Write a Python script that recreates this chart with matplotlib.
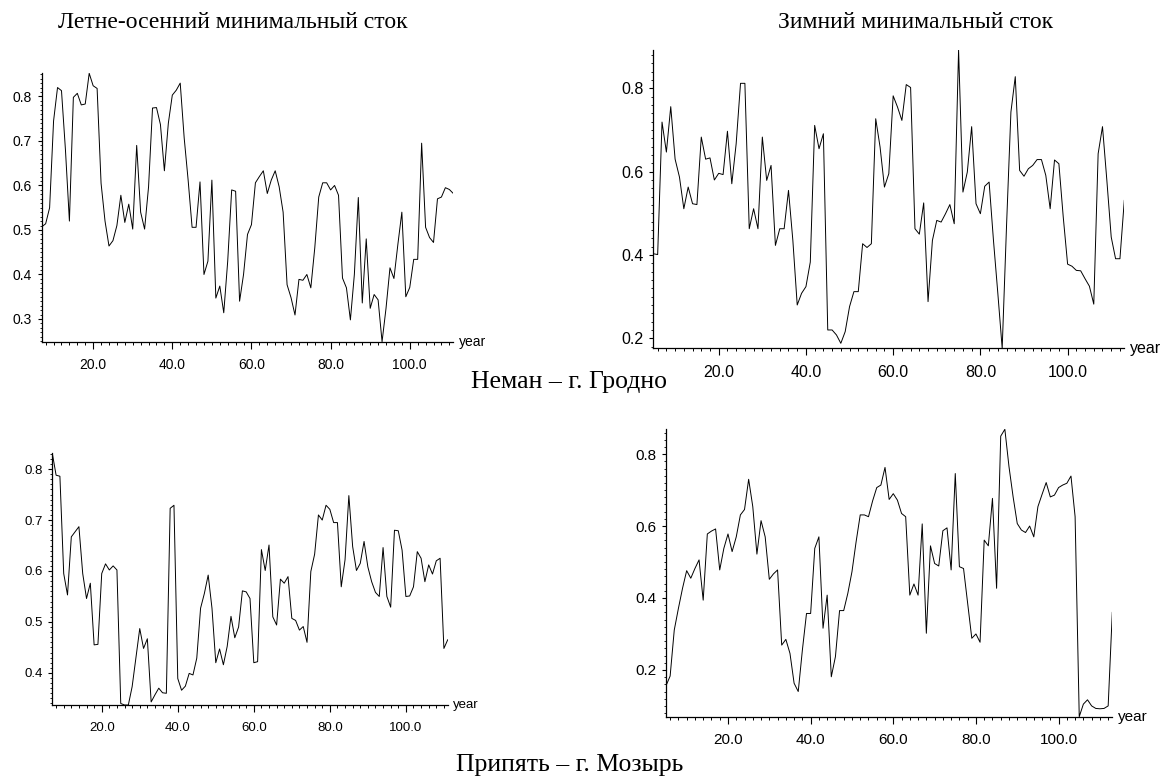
import numpy as np
import matplotlib
matplotlib.use('Agg')
import matplotlib.pyplot as plt
from matplotlib.ticker import MultipleLocator, FormatStrFormatter

W, H = 1164, 780

# Неман – г. Гродно, летне-осенний минимальный сток (годы 7..111)
neman_summer_years = np.arange(7, 112)
neman_summer = [0.507, 0.514, 0.55, 0.745, 0.82, 0.813, 0.68, 0.52, 0.798, 0.807,
                0.781, 0.783, 0.852, 0.824, 0.818, 0.605, 0.52, 0.464, 0.476, 0.51,
                0.578, 0.517, 0.558, 0.502, 0.69, 0.54, 0.502, 0.597, 0.774, 0.775,
                0.737, 0.633, 0.74, 0.803, 0.814, 0.83, 0.707, 0.612, 0.506, 0.506,
                0.608, 0.4, 0.43, 0.612, 0.347, 0.374, 0.314, 0.43, 0.59, 0.587,
                0.34, 0.4, 0.49, 0.512, 0.606, 0.62, 0.633, 0.582, 0.612, 0.633,
                0.597, 0.54, 0.377, 0.348, 0.309, 0.389, 0.387, 0.4, 0.37, 0.46,
                0.574, 0.606, 0.606, 0.59, 0.6, 0.578, 0.392, 0.37, 0.298, 0.4,
                0.573, 0.336, 0.48, 0.324, 0.355, 0.343, 0.249, 0.324, 0.415, 0.391,
                0.468, 0.54, 0.35, 0.371, 0.434, 0.434, 0.695, 0.506, 0.483, 0.472,
                0.57, 0.574, 0.595, 0.591, 0.582]

# Неман – г. Гродно, зимний минимальный сток (годы 5..113)
neman_winter_years = np.arange(5, 114)
neman_winter = [0.403, 0.401, 0.719, 0.647, 0.756, 0.63, 0.587, 0.511, 0.563, 0.523,
                0.521, 0.683, 0.63, 0.633, 0.58, 0.596, 0.593, 0.697, 0.571, 0.667,
                0.812, 0.812, 0.463, 0.511, 0.463, 0.683, 0.579, 0.615, 0.423, 0.463,
                0.463, 0.555, 0.435, 0.28, 0.308, 0.324, 0.383, 0.711, 0.655, 0.691,
                0.22, 0.22, 0.208, 0.188, 0.216, 0.276, 0.312, 0.312, 0.427, 0.418,
                0.427, 0.727, 0.659, 0.563, 0.595, 0.782, 0.755, 0.723, 0.809, 0.802,
                0.463, 0.45, 0.525, 0.288, 0.435, 0.483, 0.479, 0.499, 0.521, 0.475,
                0.892, 0.551, 0.599, 0.708, 0.523, 0.499, 0.565, 0.575, 0.435, 0.308,
                0.176, 0.471, 0.743, 0.828, 0.603, 0.589, 0.607, 0.615, 0.629, 0.629,
                0.591, 0.511, 0.628, 0.619, 0.491, 0.378, 0.373, 0.363, 0.362, 0.343,
                0.325, 0.282, 0.643, 0.708, 0.579, 0.443, 0.391, 0.391, 0.531]

# Припять – г. Мозырь, летне-осенний минимальный сток (годы 7..111)
pripyat_summer_years = np.arange(7, 112)
pripyat_summer = [0.831, 0.788, 0.786, 0.595, 0.553, 0.667, 0.677, 0.687, 0.595, 0.546,
                  0.576, 0.455, 0.456, 0.595, 0.614, 0.602, 0.61, 0.602, 0.34, 0.337,
                  0.337, 0.373, 0.43, 0.487, 0.448, 0.467, 0.343, 0.357, 0.37, 0.361,
                  0.36, 0.723, 0.729, 0.389, 0.366, 0.374, 0.399, 0.396, 0.429, 0.527,
                  0.556, 0.592, 0.527, 0.42, 0.447, 0.416, 0.452, 0.511, 0.469, 0.49,
                  0.561, 0.559, 0.546, 0.42, 0.422, 0.642, 0.601, 0.651, 0.51, 0.494,
                  0.584, 0.576, 0.589, 0.507, 0.503, 0.484, 0.491, 0.46, 0.599, 0.633,
                  0.71, 0.7, 0.729, 0.721, 0.695, 0.695, 0.569, 0.622, 0.748, 0.648,
                  0.601, 0.615, 0.658, 0.608, 0.579, 0.558, 0.55, 0.646, 0.55, 0.529,
                  0.68, 0.679, 0.641, 0.55, 0.551, 0.569, 0.638, 0.625, 0.579, 0.612,
                  0.594, 0.62, 0.625, 0.448, 0.465]

# Припять – г. Мозырь, зимний минимальный сток (годы 5..113)
pripyat_winter_years = np.arange(5, 114)
pripyat_winter = [0.156, 0.183, 0.311, 0.371, 0.427, 0.476, 0.455, 0.482, 0.506, 0.394,
                  0.578, 0.586, 0.592, 0.478, 0.538, 0.578, 0.529, 0.57, 0.631, 0.646,
                  0.73, 0.654, 0.522, 0.615, 0.57, 0.452, 0.467, 0.478, 0.269, 0.285,
                  0.246, 0.163, 0.14, 0.255, 0.357, 0.357, 0.538, 0.57, 0.316, 0.408,
                  0.181, 0.237, 0.365, 0.365, 0.413, 0.473, 0.556, 0.631, 0.631, 0.626,
                  0.67, 0.707, 0.714, 0.763, 0.674, 0.69, 0.672, 0.635, 0.626, 0.408,
                  0.439, 0.408, 0.606, 0.302, 0.545, 0.496, 0.489, 0.587, 0.595, 0.478,
                  0.746, 0.487, 0.482, 0.385, 0.288, 0.3, 0.277, 0.561, 0.545, 0.677,
                  0.427, 0.85, 0.869, 0.765, 0.681, 0.607, 0.589, 0.582, 0.6, 0.57,
                  0.654, 0.688, 0.721, 0.681, 0.686, 0.707, 0.714, 0.719, 0.739, 0.626,
                  0.07, 0.105, 0.117, 0.1, 0.093, 0.092, 0.093, 0.1, 0.36]

titles_top = ['Летне-осенний минимальный сток', 'Зимний минимальный сток']
river_labels = ['Неман – г. Гродно', 'Припять – г. Мозырь']

SANS = 'Liberation Sans'
SERIF = 'Liberation Serif'


def panel(fig, box, years, values, ymajor, yminor, fs):
    l, t, r, b = box
    ax = fig.add_axes([l / W, 1 - b / H, (r - l) / W, (b - t) / H])
    ax.plot(years, values, color='black', lw=0.7)
    ax.set_xlim(years[0], years[-1])
    ax.set_ylim(min(values), max(values))
    for s in ('top', 'right'):
        ax.spines[s].set_visible(False)
    for s in ('left', 'bottom'):
        ax.spines[s].set_linewidth(0.9)
    ax.xaxis.set_major_locator(MultipleLocator(20))
    ax.xaxis.set_minor_locator(MultipleLocator(2))
    ax.yaxis.set_major_locator(MultipleLocator(ymajor))
    ax.yaxis.set_minor_locator(MultipleLocator(yminor))
    ax.xaxis.set_major_formatter(FormatStrFormatter('%.1f'))
    ax.yaxis.set_major_formatter(FormatStrFormatter('%.1f'))
    ax.tick_params(axis='x', which='major', length=5, width=0.8, pad=7, labelsize=fs)
    ax.tick_params(axis='x', which='minor', length=2.5, width=0.7)
    ax.tick_params(axis='y', which='major', length=3, width=0.8, pad=4, labelsize=fs)
    ax.tick_params(axis='y', which='minor', length=1.8, width=0.6)
    for lab in ax.get_xticklabels() + ax.get_yticklabels():
        lab.set_family(SANS)
    ax.annotate('year', xy=(1, 0), xycoords='axes fraction', xytext=(4, 0),
                textcoords='offset points', va='center', ha='left',
                fontsize=fs, family=SANS)
    ax.patch.set_alpha(0)
    return ax


fig = plt.figure(figsize=(W / 100, H / 100), dpi=100)

panel(fig, (41.7, 73.3, 453.3, 341.7), neman_summer_years, neman_summer, 0.1, 0.01, 10)
panel(fig, (653.3, 50, 1124.3, 348.3), neman_winter_years, neman_winter, 0.2, 0.02, 11.5)
panel(fig, (52.3, 453.3, 447.7, 705), pripyat_summer_years, pripyat_summer, 0.1, 0.01, 9.5)
panel(fig, (666, 429.3, 1112.3, 716.7), pripyat_winter_years, pripyat_winter, 0.2, 0.02, 11)

fig.text(233 / W, 1 - 23 / H, titles_top[0], ha='center', va='center',
         fontsize=17, family=SERIF)
fig.text(916 / W, 1 - 23 / H, titles_top[1], ha='center', va='center',
         fontsize=17, family=SERIF)
fig.text(569 / W, 1 - 382 / H, river_labels[0], ha='center', va='center',
         fontsize=18.5, family=SERIF)
fig.text(570 / W, 1 - 765 / H, river_labels[1], ha='center', va='center',
         fontsize=18.5, family=SERIF)

fig.savefig('out.png', dpi=100)
